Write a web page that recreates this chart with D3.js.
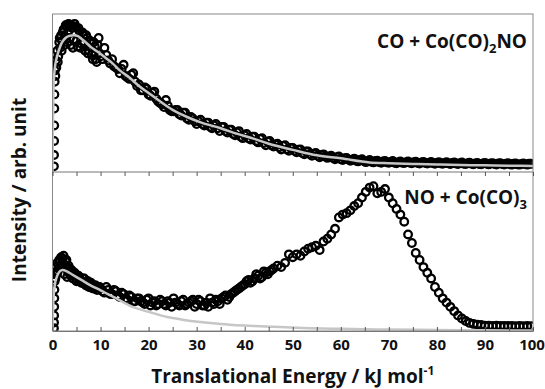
<!DOCTYPE html>
<html><head><meta charset="utf-8">
<script src="https://cdn.jsdelivr.net/npm/d3@7"></script>
<style>body{margin:0;background:#fff}svg{display:block}text{font-family:"Open Sans",sans-serif;font-weight:bold;fill:#111}</style>
</head><body><svg id="c" width="545" height="389"></svg>
<script>
const energy=[0.3,0.32,0.34,0.36,0.38,0.4,0.45,0.5,0.6,0.7,0.8,1.0,1.2,1.4,1.6,1.8,2.0,2.3,2.6,2.9,3.2,3.5,3.8,4.1,4.4,4.8,5.2,5.6,6.0,6.4,6.8,7.2,7.6,8.0,8.4,8.8,9.2,9.6,
10.0,10.8,11.6,12.4,13.2,14.0,14.8,15.6,16.4,17.2,18.0,18.8,19.6,20.4,21.2,22.0,22.8,23.6,24.4,25.2,
26.0,26.8,27.6,28.4,29.2,30.0,30.8,31.6,32.4,33.2,34.0,34.8,35.6,36.4,37.2,38.0,38.8,39.6,40.4,41.2,
42.0,42.8,43.6,44.4,45.2,46.0,46.8,47.6,48.4,49.2,50.0,50.8,51.6,52.4,53.2,54.0,54.8,55.6,56.4,57.2,
58.0,58.8,59.6,60.4,61.2,62.0,62.8,63.6,64.4,65.2,66.0,66.8,67.6,68.4,69.2,70.0,70.8,71.6,72.4,73.2,
74.0,74.8,75.6,76.4,77.2,78.0,78.8,79.6,80.4,81.2,82.0,82.8,83.6,84.4,85.2,86.0,86.8,87.6,88.4,89.2,
90.0,90.8,91.6,92.4,93.2,94.0,94.8,95.6,96.4,97.2,98.0,98.8,99.6];
const topData=[0.04,0.12,0.22,0.33,0.45,0.55,0.64,0.72,0.68,0.79,0.74,0.86,0.82,0.92,0.88,0.97,0.93,1.01,0.96,1.04,0.99,1.03,0.90,1.02,0.94,1.03,0.89,1.00,0.91,0.97,0.86,0.95,0.86,0.91,0.80,0.89,0.78,0.95,
0.82,0.88,0.79,0.80,0.74,0.70,0.76,0.67,0.69,0.64,0.62,0.58,0.59,0.54,0.57,0.50,0.48,0.51,0.44,0.43,
0.44,0.40,0.42,0.37,0.38,0.34,0.37,0.33,0.35,0.31,0.34,0.29,0.32,0.28,0.30,0.26,0.29,0.24,0.27,0.23,
0.25,0.21,0.24,0.19,0.22,0.18,0.20,0.16,0.19,0.15,0.17,0.14,0.16,0.125,0.145,0.115,0.135,0.105,0.125,0.10,
0.115,0.09,0.11,0.085,0.10,0.08,0.095,0.075,0.09,0.07,0.085,0.068,0.08,0.065,0.078,0.065,0.078,0.062,0.075,0.063,
0.075,0.062,0.073,0.06,0.072,0.06,0.071,0.058,0.07,0.059,0.069,0.057,0.068,0.056,0.067,0.056,0.066,0.055,0.065,0.055,
0.064,0.054,0.063,0.053,0.062,0.053,0.062,0.052,0.061,0.052,0.06,0.052,0.058];
const peakE=[1.1,1.5,1.9,2.15,2.45,2.75,3.05,3.35,3.65,3.95,4.25,4.6,5.0,5.4,5.8,6.2,6.6,7.0,7.4,7.8,8.2,8.6,9.0,9.4,9.8];
const topPeak=[0.78,0.95,0.86,0.99,0.90,1.04,0.92,1.05,0.95,1.04,0.88,1.05,0.93,1.02,0.88,0.99,0.92,0.97,0.84,0.93,0.83,0.92,0.80,0.90,0.84];
const botPeak=[0.42,0.50,0.45,0.51,0.40,0.49,0.38,0.46,0.40,0.43,0.37,0.41,0.35,0.39,0.36,0.34,0.37,0.32,0.35,0.31,0.33,0.30,0.32,0.29,0.31];
const topExtraE=[10.4,11.2,12.0,12.8,13.6,14.4,15.2,16.0,16.8,17.6,18.4,19.2,20.0,20.8,21.6,22.4,23.2,24.0,24.8,25.6,
26.4,27.2,28.0,28.8,29.6,30.4,31.2,32.0,32.8,33.6,34.4,35.2,36.0,36.8,37.6,38.4,39.2,40.0,40.8,41.6,
42.4,43.2,44.0,44.8,45.6,46.4,47.2,48.0,48.8,49.6,50.4,51.2,52.0,52.8,53.6,54.4,55.2,56.0,56.8,57.6,
58.4,59.2,60.0,60.8,61.6,62.4,63.2,64.0,64.8,65.6,66.4,67.2,68.0,68.8,69.6,70.4,71.2,72.0,72.8,73.6,
74.4,75.2,76.0,76.8,77.6,78.4,79.2,80.0,80.8,81.6,82.4,83.2,84.0,84.8,85.6,86.4,87.2,88.0,88.8,89.6,
90.4,91.2,92.0,92.8,93.6,94.4,95.2,96.0,96.8,97.6,98.4,99.2];
const topExtra=[0.80,0.83,0.77,0.75,0.73,0.73,0.68,0.66,0.70,0.61,0.58,0.60,0.55,0.56,0.52,0.49,0.46,0.47,0.43,0.44,
0.41,0.42,0.38,0.39,0.36,0.36,0.34,0.35,0.32,0.33,0.31,0.32,0.29,0.30,0.27,0.28,0.25,0.26,0.24,0.25,
0.22,0.235,0.205,0.215,0.19,0.195,0.175,0.185,0.16,0.17,0.15,0.158,0.135,0.145,0.125,0.13,0.115,0.12,0.11,0.11,
0.10,0.105,0.09,0.098,0.088,0.088,0.08,0.085,0.078,0.075,0.072,0.078,0.07,0.074,0.068,0.071,0.066,0.07,0.066,0.069,
0.066,0.07,0.064,0.068,0.063,0.066,0.062,0.065,0.061,0.064,0.061,0.064,0.06,0.063,0.059,0.062,0.058,0.061,0.057,0.06,
0.058,0.061,0.056,0.06,0.056,0.059,0.055,0.058,0.054,0.057,0.056,0.058];
const botData=[0.02,0.06,0.11,0.17,0.23,0.29,0.35,0.41,0.37,0.45,0.40,0.48,0.44,0.50,0.46,0.52,0.48,0.53,0.45,0.50,0.42,0.44,0.39,0.42,0.37,0.40,0.36,0.38,0.34,0.37,0.33,0.35,0.31,0.34,0.30,0.32,0.29,0.31,
0.30,0.27,0.29,0.26,0.28,0.24,0.26,0.22,0.24,0.21,0.23,0.20,0.22,0.18,0.21,0.19,0.21,0.18,0.20,0.23,
0.19,0.21,0.18,0.20,0.22,0.19,0.21,0.18,0.17,0.20,0.22,0.19,0.24,0.22,0.26,0.28,0.30,0.32,0.35,0.34,
0.37,0.39,0.38,0.41,0.42,0.44,0.46,0.45,0.48,0.54,0.52,0.54,0.53,0.56,0.58,0.59,0.60,0.57,0.63,0.65,
0.68,0.72,0.80,0.82,0.83,0.85,0.88,0.90,0.94,0.98,1.01,1.02,0.97,0.98,1.00,0.94,0.90,0.86,0.82,0.77,
0.68,0.62,0.55,0.50,0.45,0.41,0.37,0.31,0.27,0.23,0.20,0.17,0.14,0.11,0.088,0.07,0.057,0.05,0.045,0.042,
0.038,0.037,0.036,0.037,0.036,0.035,0.036,0.035,0.034,0.035,0.034,0.035,0.034];
const botExtraE=[10.4,11.2,12.0,12.8,13.6,14.4,15.2,16.0,16.8,17.6,18.4,19.2,20.0,20.8,21.6,22.4,23.2,24.0,24.8,25.6,
26.4,27.2,28.0,28.8,29.6,30.4,31.2,32.0,32.8,33.6,34.4,35.2,36.0,36.8,37.6,38.4,39.2,40.0,40.8,41.6,
42.4,43.2,44.0,44.8,45.6];
const botExtra=[0.28,0.31,0.26,0.29,0.25,0.27,0.23,0.25,0.21,0.23,0.21,0.19,0.23,0.20,0.18,0.22,0.19,0.21,0.17,0.20,
0.18,0.22,0.19,0.21,0.17,0.22,0.18,0.20,0.23,0.19,0.21,0.23,0.25,0.24,0.27,0.29,0.31,0.33,0.36,0.35,
0.40,0.37,0.42,0.40,0.43];
const fitTopE=[0,0.1,0.2,0.3,0.5,0.8,1.2,1.6,2.0,2.7,3.5,4.4,5.2,6.0,6.9,8,9.5,11,12.5,14,16,18,20,22,25,28,31,35,38.5,42,45,50,55,60,66,70,75,80,85,90,95,100];
const fitTop=[0,0.35,0.58,0.66,0.74,0.80,0.85,0.89,0.92,0.95,0.965,0.97,0.965,0.945,0.92,0.885,0.85,0.81,0.77,0.72,0.67,0.61,0.56,0.51,0.44,0.39,0.35,0.31,0.27,0.235,0.20,0.157,0.118,0.097,0.068,0.062,0.057,0.053,0.05,0.047,0.045,0.043];
const fitBotE=[0,0.2,0.5,1.0,1.5,2.1,3,4,6,8,10,13,16.8,20,23.9,27,30.8,34,37.6,42,47.4,53.6,60,70,80,90,100];
const fitBot=[0,0.22,0.33,0.39,0.42,0.43,0.42,0.40,0.36,0.32,0.287,0.235,0.168,0.135,0.098,0.08,0.063,0.052,0.042,0.035,0.028,0.02,0.015,0.01,0.007,0.005,0.003];
const xTickLabels=[0,10,20,30,40,50,60,70,80,90,100];
const xMinorTicks=[5,15,25,35,45,55,65,75,85,95];
const labelTop=["CO + Co(CO)","2","NO"];
const labelBot=["NO + Co(CO)","3"];
const xTitle=["Translational Energy / kJ mol","-1"];
const yTitle="Intensity / arb. unit";

const svg=d3.select("#c");
const L=52.5,R=533,T=14,M=172,B=331;
const x=d3.scaleLinear().domain([0,100]).range([L,R]);
const yT=d3.scaleLinear().domain([0,1.12]).range([M,T]);
const yB=d3.scaleLinear().domain([0,1.12]).range([B,M]);
const defs=svg.append("defs");
defs.append("clipPath").attr("id","ct").append("rect").attr("x",L).attr("y",T).attr("width",R-L).attr("height",M-T);
defs.append("clipPath").attr("id","cb").append("rect").attr("x",L).attr("y",M).attr("width",R-L).attr("height",B-M);

const pair=(es,vs)=>es.map((e,i)=>[e,vs[i]]);
function panel(clip,ys,pts,fe,fv){
  const g=svg.append("g").attr("clip-path",`url(#${clip})`);
  g.selectAll("circle").data(pts).join("circle")
    .attr("cx",d=>x(d[0])).attr("cy",d=>ys(d[1])).attr("r",3.8)
    .attr("fill","none").attr("stroke","#000").attr("stroke-width",2.3);
  g.append("path").datum(pair(fe,fv))
    .attr("d",d3.line().x(d=>x(d[0])).y(d=>ys(d[1])).curve(d3.curveMonotoneX))
    .attr("fill","none").attr("stroke","#c6c6c6").attr("stroke-width",2.5);
}
const topPts=pair(energy,topData).concat(pair(peakE,topPeak),pair(topExtraE,topExtra));
const botPts=pair(energy,botData).concat(pair(peakE,botPeak),pair(botExtraE,botExtra));
panel("ct",yT,topPts,fitTopE,fitTop);
panel("cb",yB,botPts,fitBotE,fitBot);

// frame
svg.append("rect").attr("x",L).attr("y",T).attr("width",R-L).attr("height",B-T).attr("fill","none").attr("stroke","#888").attr("stroke-width",1);
svg.append("line").attr("x1",L).attr("x2",R).attr("y1",M).attr("y2",M).attr("stroke","#777").attr("stroke-width",1.2);

// bottom axis
const allTicks=xTickLabels.concat(xMinorTicks);
const ax=svg.append("g").attr("transform",`translate(0,${B})`)
  .call(d3.axisBottom(x).tickValues(xTickLabels).tickSizeInner(-4).tickSizeOuter(0).tickPadding(8).tickFormat(d3.format("d")));
ax.select(".domain").attr("stroke","#777");
ax.selectAll(".tick line").attr("stroke","#555");
ax.selectAll("text").style("font-size","15px").attr("font-family",null).attr("fill","#111");
ax.selectAll(".tick").filter(d=>d===100).select("text").attr("dx",-1.5);
const axm=svg.append("g").attr("transform",`translate(0,${B})`)
  .call(d3.axisBottom(x).tickValues(xMinorTicks).tickSizeInner(-4).tickSizeOuter(0).tickFormat(""));
axm.select(".domain").remove();
axm.selectAll(".tick line").attr("stroke","#555");
const ad=svg.append("g").attr("transform",`translate(0,${M})`)
  .call(d3.axisBottom(x).tickValues(allTicks).tickSizeInner(4).tickSizeOuter(0).tickFormat(""));
ad.select(".domain").remove();
ad.selectAll(".tick line").attr("stroke","#555");

// labels
const t1=svg.append("text").attr("x",527).attr("y",48).attr("text-anchor","end").style("font-size","19px");
t1.append("tspan").text(labelTop[0]);
t1.append("tspan").text(labelTop[1]).attr("dy",5).style("font-size","13px");
t1.append("tspan").text(labelTop[2]).attr("dy",-5);
const t2=svg.append("text").attr("x",527).attr("y",204).attr("text-anchor","end").style("font-size","19px");
t2.append("tspan").text(labelBot[0]);
t2.append("tspan").text(labelBot[1]).attr("dy",5).style("font-size","13px");

const xt=svg.append("text").attr("x",(L+R)/2).attr("y",383).attr("text-anchor","middle").style("font-size","19px");
xt.append("tspan").text(xTitle[0]);
xt.append("tspan").text(xTitle[1]).attr("dy",-8).style("font-size","12px");

svg.append("text").attr("transform","translate(26,190) rotate(-90)").attr("text-anchor","middle").style("font-size","19px").text(yTitle);
</script></body></html>
